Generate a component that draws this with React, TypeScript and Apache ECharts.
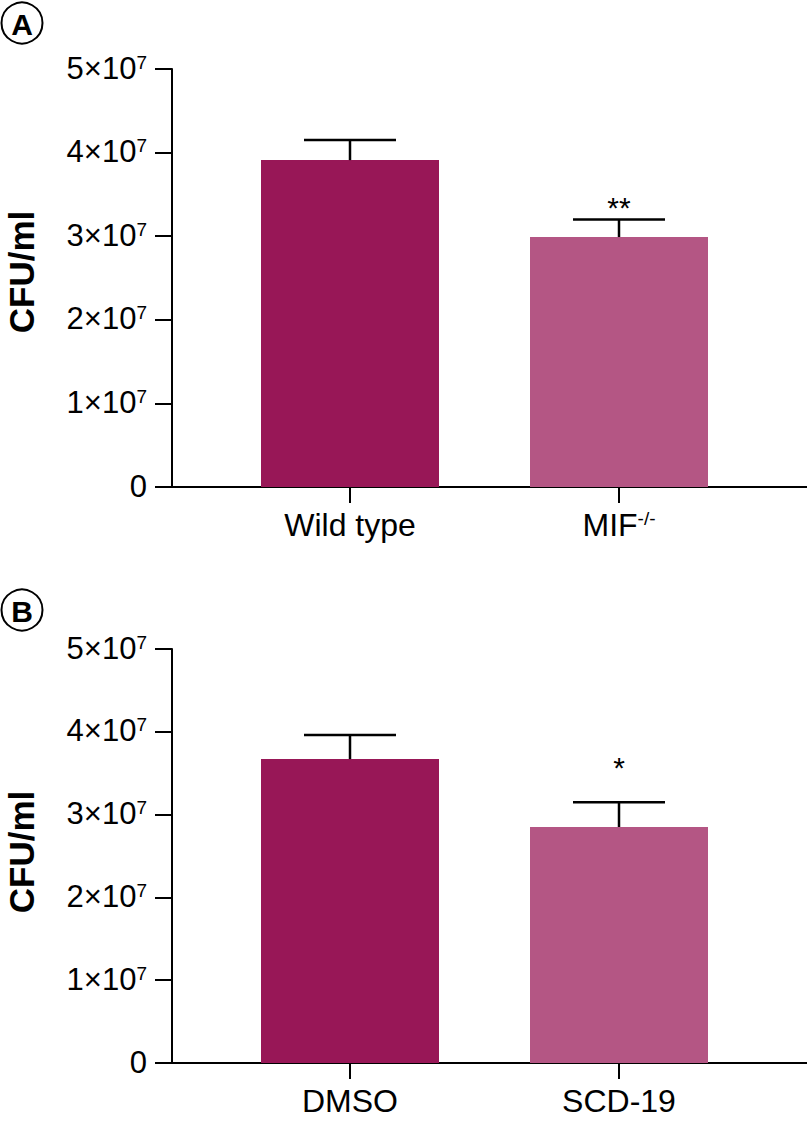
import React, { useEffect, useRef } from "react";
import * as echarts from "echarts";

// Panel A
const categoriesA = ["Wild type", "MIF-/-"];
const meansA = [3.91e7, 2.99e7];
const errorsA = [0.24e7, 0.21e7];
const signifA = ["", "**"];

// Panel B
const categoriesB = ["DMSO", "SCD-19"];
const meansB = [3.67e7, 2.85e7];
const errorsB = [0.29e7, 0.30e7];
const signifB = ["", "*"];

// Y axis ticks
const yMin = 0;
const yMax = 5e7;
const yStep = 1e7;
const yExponent = 7;

const barColors = ["#981757", "#B45684"];
const FONT = "'Liberation Sans', Arial, Helvetica, sans-serif";

const X_MIN = 1 - 178 / 269;
const X_MAX = X_MIN + 635 / 269;

function catLabel(name: string) {
  const m = name.match(/^(.*?)(-\/-)$/);
  if (m) return `{n|${m[1]}}{s|${m[2]}}`;
  return `{n|${name}}`;
}

function yLabel(v: number) {
  if (v === 0) return "{n|0}";
  const mant = Math.round(v / Math.pow(10, yExponent));
  return `{n|${mant}×10}{s|${yExponent}}`;
}

function makeAxes(gridIndex: number, cats: string[]) {
  const xAxis = {
    type: "value",
    gridIndex,
    min: X_MIN,
    max: X_MAX,
    splitLine: { show: false },
    axisLine: { show: true, onZero: false, lineStyle: { color: "#000", width: 2 } },
    axisTick: { show: true, length: 16, customValues: cats.map((_, i) => i + 1), lineStyle: { color: "#000", width: 2 } },
    axisLabel: {
      customValues: cats.map((_, i) => i + 1),
      margin: 22,
      formatter: (v: number) => catLabel(cats[Math.round(v) - 1] ?? ""),
      rich: {
        n: { fontSize: 32, fontFamily: FONT, color: "#000", verticalAlign: "top", lineHeight: 34 },
        s: { fontSize: 19, fontFamily: FONT, color: "#000", verticalAlign: "top", lineHeight: 34 },
      },
    },
  };
  const yAxis = {
    type: "value",
    gridIndex,
    min: yMin,
    max: yMax,
    interval: yStep,
    splitLine: { show: false },
    axisLine: { show: true, lineStyle: { color: "#000", width: 2 } },
    axisTick: { show: true, length: 17, lineStyle: { color: "#000", width: 2 } },
    axisLabel: {
      margin: 25,
      formatter: yLabel,
      rich: {
        n: { fontSize: 31, fontFamily: FONT, color: "#000", verticalAlign: "top", lineHeight: 33 },
        s: { fontSize: 19, fontFamily: FONT, color: "#000", verticalAlign: "top", lineHeight: 33 },
      },
    },
  };
  return { xAxis, yAxis };
}

function makeSeries(idx: number, means: number[], errors: number[], signif: string[], sigGap: number) {
  const bar = {
    type: "bar",
    xAxisIndex: idx,
    yAxisIndex: idx,
    barWidth: 178,
    data: means.map((v, i) => ({ value: [i + 1, v], itemStyle: { color: barColors[i] } })),
  };
  const err = {
    type: "custom",
    xAxisIndex: idx,
    yAxisIndex: idx,
    z: 5,
    clip: false,
    data: means.map((v, i) => [i + 1, v, errors[i]]),
    renderItem: (params: any, api: any) => {
      const x = api.value(0);
      const y = api.value(1);
      const e = api.value(2);
      const base = api.coord([x, y]);
      const top = api.coord([x, y + e]);
      const hw = 46;
      const stroke = { stroke: "#000", lineWidth: 2.5 };
      const children: any[] = [
        { type: "line", shape: { x1: base[0], y1: base[1], x2: top[0], y2: top[1] }, style: stroke },
        { type: "line", shape: { x1: top[0] - hw, y1: top[1], x2: top[0] + hw, y2: top[1] }, style: stroke },
      ];
      const s = signif[params.dataIndex];
      if (s) {
        children.push({
          type: "text",
          style: {
            text: s,
            x: top[0],
            y: top[1] - sigGap,
            align: "center",
            verticalAlign: "middle",
            font: `30px ${FONT}`,
            fill: "#000",
          },
        });
      }
      return { type: "group", children };
    },
  };
  return [bar, err];
}

export default function App() {
  const ref = useRef<HTMLDivElement>(null);
  useEffect(() => {
    document.body.style.margin = "0";
    if (!ref.current) return;
    const chart = echarts.init(ref.current, undefined, { renderer: "svg" });
    const a = makeAxes(0, categoriesA);
    const b = makeAxes(1, categoriesB);
    const panelLetter = (letter: string, cx: number, cy: number) => [
      { type: "circle", shape: { cx, cy, r: 20.5 }, style: { fill: "none", stroke: "#000", lineWidth: 2 } },
      {
        type: "text",
        x: cx,
        y: cy + 1,
        style: { text: letter, font: `bold 30px ${FONT}`, fill: "#000", align: "center", verticalAlign: "middle" },
      },
    ];
    const yTitle = (cy: number) => ({
      type: "text",
      x: 21,
      y: cy,
      rotation: Math.PI / 2,
      style: { text: "CFU/ml", font: `bold 35px ${FONT}`, fill: "#000", align: "center", verticalAlign: "middle" },
    });
    chart.setOption({
      animation: false,
      backgroundColor: "#fff",
      grid: [
        { left: 172, right: 0, top: 69, height: 418 },
        { left: 172, right: 0, top: 649, height: 414 },
      ],
      xAxis: [a.xAxis, b.xAxis],
      yAxis: [a.yAxis, b.yAxis],
      series: [
        ...makeSeries(0, meansA, errorsA, signifA, 12),
        ...makeSeries(1, meansB, errorsB, signifB, 35),
      ],
      graphic: [
        ...panelLetter("A", 22, 23),
        ...panelLetter("B", 22, 610),
        yTitle(272),
        yTitle(852),
      ],
    });
    return () => chart.dispose();
  }, []);
  return <div ref={ref} style={{ width: 807, height: 1123 }} />;
}
